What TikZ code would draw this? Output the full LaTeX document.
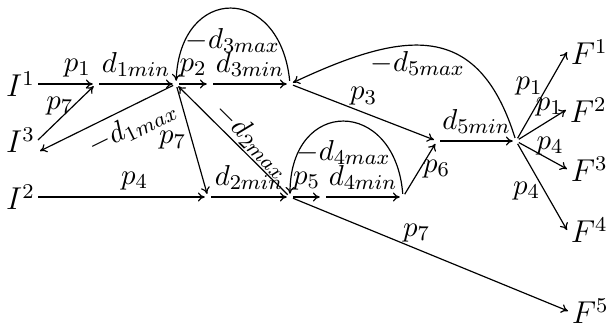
\documentclass[tikz,border=0pt]{standalone}
\usetikzlibrary{arrows.meta}
\begin{document}
\begin{tikzpicture}[x=0.38pt,y=-0.38pt,>={Computer Modern Rightarrow[length=2.6pt,width=3.4pt]},line width=0.45pt,
  every node/.style={font=\fontsize{11}{13}\selectfont},
  pt/.style={circle,inner sep=0pt,minimum size=2pt},
  bigI/.style={font=\large,inner xsep=1pt,inner ysep=2pt,anchor=east},
  bigF/.style={font=\large,inner xsep=1.2pt,inner ysep=2pt,anchor=west},
  arr/.style={->}]
\useasboundingbox (0,0) rectangle (607,326);
% text nodes
\node[bigI] (I1) at (38,84) {$I^1$};
\node[bigI] (I3) at (38,140) {$I^3$};
\node[bigI] (I2) at (38,197) {$I^2$};
\node[bigF] (F1) at (567,52) {$F^1$};
\node[bigF] (F2) at (566,110) {$F^2$};
\node[bigF] (F3) at (567,169) {$F^3$};
\node[bigF] (F4) at (567,230) {$F^4$};
\node[bigF] (F5) at (568,311) {$F^5$};
% point nodes
\node[pt] (a1) at (96,84) {};
\node[pt] (a2) at (176,84) {};
\node[pt] (a3) at (210,84) {};
\node[pt] (a4) at (290,84) {};
\node[pt] (b1) at (208,197) {};
\node[pt] (b2) at (290,197) {};
\node[pt] (b3) at (323,197) {};
\node[pt] (b4) at (403,197) {};
\node[pt] (c1) at (437,141) {};
\node[pt] (c2) at (516,141) {};
% connectors
\draw[arr] (I1.east) -- node[above,pos=0.72,inner sep=2.5pt] (l1) {$p_1$} (a1);
\draw[arr] (a1) -- node[above,inner sep=2.5pt] (l2) {$d_{1min}$} (a2);
\draw[arr] (a2) -- node[above,inner sep=2.5pt] (l3) {$p_2$} (a3);
\draw[arr] (a3) -- node[above,inner sep=2.5pt] (l4) {$d_{3min}$} (a4);
\draw[arr] (a4) .. controls +(-10,-100) and +(4,-100) .. node[pos=0.5,shift={(2,32)}] (l5) {$-d_{3max}$} (a2);
\draw[arr] (I3.east) -- node[pos=0.5,shift={(-6,-7)}] (l6) {$p_7$} (a1);
\draw[arr] (a2) -- node[sloped,below,pos=0.37,inner sep=2.5pt] (l7) {$-d_{1max}$} ([shift={(2,11)}]I3.east);
\draw[arr] (a2) -- node[left,pos=0.5,inner sep=2pt] (l8) {$p_7$} (b1);
\draw[arr] (b2) -- node[sloped,above,pos=0.41,inner sep=0.5pt] (l9) {$-d_{2max}$} (a2);
\draw[arr] (I2.east) -- node[above,pos=0.58,inner sep=2.5pt] (l10) {$p_4$} (b1);
\draw[arr] (b1) -- node[above,inner sep=2.5pt] (l11) {$d_{2min}$} (b2);
\draw[arr] (b2) -- node[above,inner sep=2.5pt] (l12) {$p_5$} (b3);
\draw[arr] (b3) -- node[above,inner sep=2.5pt] (l13) {$d_{4min}$} (b4);
\draw[arr] (b4) .. controls +(-8,-100) and +(0,-100) .. node[pos=0.5,shift={(0,31)}] (l14) {$-d_{4max}$} (b2);
\draw[arr] (b4) -- node[right,pos=0.5,inner sep=1pt] (l15) {$p_6$} (c1);
\draw[arr] (a4) -- node[above,inner sep=2.5pt] (l16) {$p_3$} (c1);
\draw[arr] (c1) -- node[above,inner sep=2.5pt] (l17) {$d_{5min}$} (c2);
\draw[arr] ([shift={(-6,-13)}]c2) .. controls (478,20) and (405,30) .. node[pos=0.55,shift={(-3,18)}] (l18) {$-d_{5max}$} (a4);
\draw[arr] ([shift={(2,-13)}]c2) -- node[left,pos=0.6,inner sep=1.5pt] (l19) {$p_1$} (F1.west);
\draw[arr] ([shift={(2,-5)}]c2) -- node[above,pos=0.65,inner sep=1.5pt] (l20) {$p_1$} (F2.west);
\draw[arr] ([shift={(3,3)}]c2) -- node[above,pos=0.65,inner sep=1.5pt] (l21) {$p_4$} (F3.west);
\draw[arr] ([shift={(2,11)}]c2) -- node[left,pos=0.55,inner sep=1.5pt] (l22) {$p_4$} (F4.west);
\draw[arr] (b2) -- node[above,pos=0.45,inner sep=2.5pt] (l23) {$p_7$} (F5.west);
\end{tikzpicture}
\end{document}
